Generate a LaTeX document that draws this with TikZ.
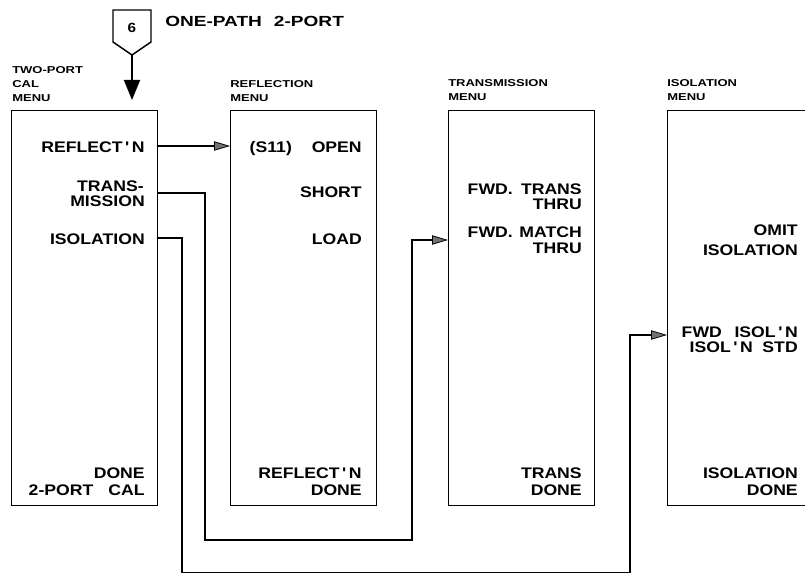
\documentclass[tikz,border=0pt]{standalone}
\usepackage{fontspec}
\newfontfamily\pf{Liberation Sans}[FakeStretch=1.15, Ligatures=TeXOff]
\newfontfamily\hf{Liberation Sans}[FakeStretch=1.3, Ligatures=TeXOff]
\usetikzlibrary{arrows.meta}
\begin{document}
\begin{tikzpicture}[x=0.75pt,y=-0.75pt,
  menubox/.style={draw,line width=1.1pt,anchor=north west,minimum width=109.5pt,minimum height=296.25pt,inner sep=0pt},
  item/.style={font=\pf\bfseries\fontsize{11.5}{14}\selectfont,anchor=base east,inner sep=0pt},
  hdr/.style={font=\hf\bfseries\fontsize{7.5}{10}\selectfont,anchor=base west,inner sep=0pt},
  link/.style={line width=1.1pt,-{Triangle[length=12pt,width=7pt,fill=black!55,line width=0.6pt]}}
]
\useasboundingbox (0,0) rectangle (805,573);

% start symbol
\draw[line width=1.1pt] (113,10) -- (151,10) -- (151,42) -- (132,55) -- (113,42) -- cycle;
\node[font=\pf\bfseries\fontsize{10}{11}\selectfont,anchor=base,inner sep=0pt] (six) at (132,33) {6};
\node[font=\hf\bfseries\fontsize{11}{13}\selectfont,anchor=base west,inner sep=0pt] (title) at (165,27) {ONE-PATH\hspace{9pt}2-PORT};
\coordinate (tip) at (132,55);
\coordinate (entry) at (132,100);
\draw[line width=1.4pt,-{Triangle[length=15pt,width=12pt]}] (tip) -- (entry);

% boxes
\node[menubox] (b1) at (11,110) {};
\node[menubox] (b2) at (230,110) {};
\node[menubox] (b3) at (448,110) {};
\node[menubox] (b4) at (667,110) {};

% headers
\node[hdr] (h1a) at (12,74) {TWO-PORT};
\node[hdr] (h1b) at (12,88) {CAL};
\node[hdr] (h1c) at (12,102) {MENU};
\node[hdr] (h2a) at (230,88) {REFLECTION};
\node[hdr] (h2b) at (230,102) {MENU};
\node[hdr] (h3a) at (448,87) {TRANSMISSION};
\node[hdr] (h3b) at (448,101) {MENU};
\node[hdr] (h4a) at (667,87) {ISOLATION};
\node[hdr] (h4b) at (667,101) {MENU};

% box 1 items
\node[item] (b1r) at (145,153) {REFLECT\,'\,N};
\node[item] (b1t1) at (144,192) {TRANS-};
\node[item] (b1t2) at (145,207) {MISSION};
\node[item] (b1i) at (145,244) {ISOLATION};
\node[item] (b1d1) at (145,478) {DONE};
\node[item] (b1d2) at (145,495) {\hbox to 87pt{2-PORT\hfill CAL}};

% box 2 items
\node[item] (b2o) at (362,153) {\hbox to 84pt{(S11)\hfill OPEN}};
\node[item] (b2s) at (362,198) {SHORT};
\node[item] (b2l) at (362,245) {LOAD};
\node[item] (b2d1) at (362,478) {REFLECT\,'\,N};
\node[item] (b2d2) at (362,495) {DONE};

% box 3 items
\node[item] (b3a1) at (582,195) {\hbox to 85.5pt{FWD.\hfill TRANS}};
\node[item] (b3a2) at (582,210) {THRU};
\node[item] (b3b1) at (582,238) {\hbox to 85.5pt{FWD.\hfill MATCH}};
\node[item] (b3b2) at (582,253) {THRU};
\node[item] (b3d1) at (582,478) {TRANS};
\node[item] (b3d2) at (582,495) {DONE};

% box 4 items
\node[item] (b4o1) at (798,236) {OMIT};
\node[item] (b4o2) at (798,256) {ISOLATION};
\node[item] (b4f1) at (798,337) {\hbox to 87pt{FWD\hfill ISOL\,'\,N}};
\node[item] (b4f2) at (798,352) {\hbox to 81pt{ISOL\,'\,N\hfill STD}};
\node[item] (b4d1) at (798,478) {ISOLATION};
\node[item] (b4d2) at (798,495) {DONE};

% connector levels and corners
\coordinate (yR) at (0,146);
\coordinate (yT) at (0,193);
\coordinate (yI) at (0,238);
\coordinate (tA) at (205,540);
\coordinate (tB) at (412,240);
\coordinate (iA) at (182,573);
\coordinate (iB) at (630,335);

\draw[link] (b1.east |- yR) -- (b2.west |- yR);
\draw[link] (b1.east |- yT) -| (tA) -| (tB) -- (b3.west |- tB);
\draw[link] (b1.east |- yI) -| (iA) -| (iB) -- (b4.west |- iB);
\end{tikzpicture}
\end{document}
